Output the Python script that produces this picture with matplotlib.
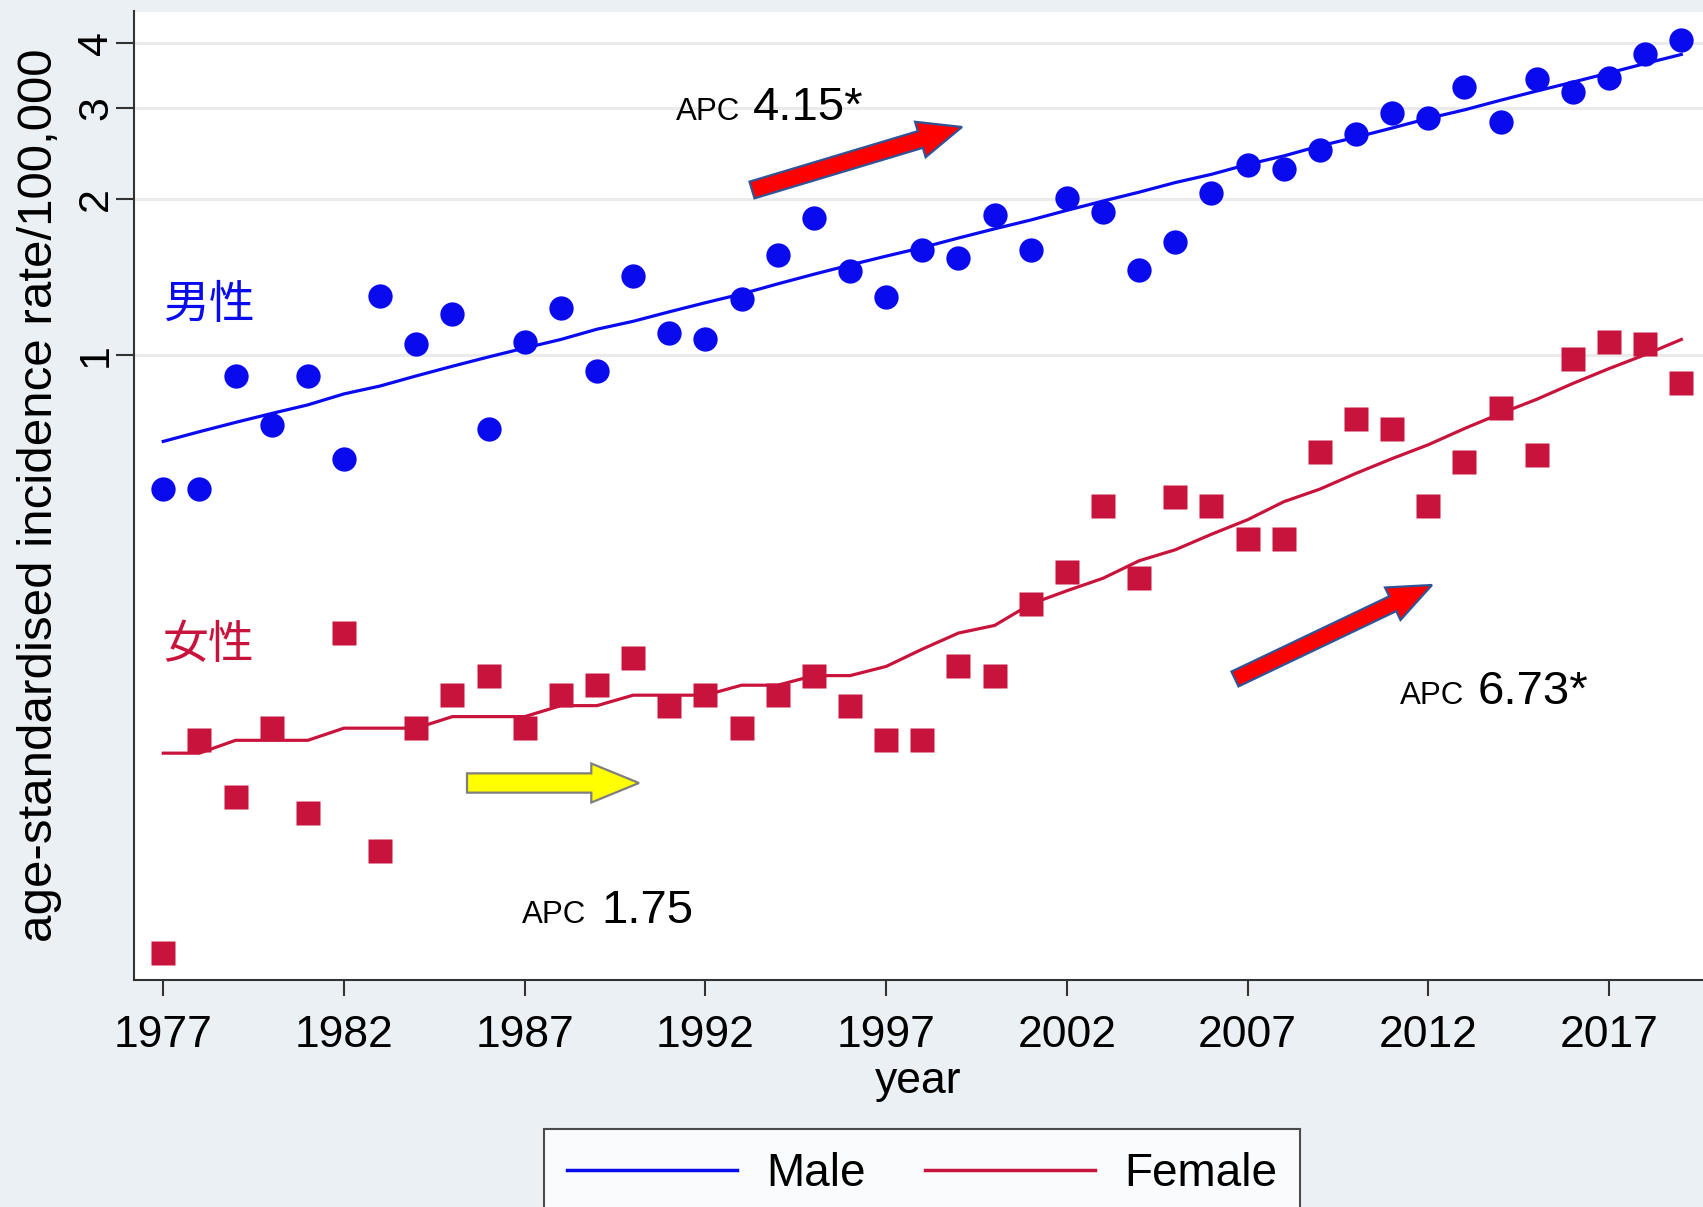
import matplotlib
matplotlib.use("Agg")
import matplotlib.pyplot as plt
from matplotlib.patches import FancyArrow
from matplotlib.ticker import NullLocator

plt.rcParams['font.family'] = ['Liberation Sans', 'DejaVu Sans']

# data (rate per 100,000, log scale)
years = list(range(1977, 2020))
male_rate = [0.55, 0.55, 0.91, 0.73, 0.91, 0.63, 1.30, 1.05, 1.20, 0.72,
             1.06, 1.23, 0.93, 1.42, 1.10, 1.07, 1.28, 1.56, 1.84, 1.45,
             1.29, 1.59, 1.54, 1.86, 1.59, 2.01, 1.89, 1.46, 1.65, 2.05,
             2.32, 2.28, 2.48, 2.67, 2.93, 2.87, 3.29, 2.81, 3.41, 3.22,
             3.43, 3.81, 4.05]
female_rate = [0.07, 0.18, 0.14, 0.19, 0.13, 0.29, 0.11, 0.19, 0.22, 0.24,
               0.19, 0.22, 0.23, 0.26, 0.21, 0.22, 0.19, 0.22, 0.24, 0.21,
               0.18, 0.18, 0.25, 0.24, 0.33, 0.38, 0.51, 0.37, 0.53, 0.51,
               0.44, 0.44, 0.65, 0.75, 0.72, 0.51, 0.62, 0.79, 0.64, 0.98,
               1.06, 1.05, 0.88]
# joinpoint fitted values
male_fit = [0.68, 0.71, 0.74, 0.77, 0.80, 0.84, 0.87, 0.91, 0.95, 0.99,
            1.03, 1.07, 1.12, 1.16, 1.21, 1.26, 1.31, 1.37, 1.43, 1.49,
            1.55, 1.61, 1.68, 1.75, 1.82, 1.90, 1.98, 2.06, 2.15, 2.23,
            2.33, 2.42, 2.53, 2.63, 2.74, 2.86, 2.97, 3.10, 3.23, 3.36,
            3.50, 3.65, 3.80]
female_fit = [0.17, 0.17, 0.18, 0.18, 0.18, 0.19, 0.19, 0.19, 0.20, 0.20,
              0.20, 0.21, 0.21, 0.22, 0.22, 0.22, 0.23, 0.23, 0.24, 0.24,
              0.25, 0.27, 0.29, 0.30, 0.33, 0.35, 0.37, 0.40, 0.42, 0.45,
              0.48, 0.52, 0.55, 0.59, 0.63, 0.67, 0.72, 0.77, 0.82, 0.88,
              0.94, 1.00, 1.07]

x_ticks = [1977, 1982, 1987, 1992, 1997, 2002, 2007, 2012, 2017]
y_ticks = [1, 2, 3, 4]
y_tick_labels = ["1", "2", "3", "4"]
series_labels = ["Male", "Female"]
sex_labels = ["男性", "女性"]
apc_values = ["4.15*", "6.73*", "1.75"]

BG = "#EAF0F3"
BLUE = "#0A0AEE"
CRIMSON = "#C8143C"

W, H = 1703, 1207
fig = plt.figure(figsize=(W / 100, H / 100), dpi=100, facecolor=BG)
ax = fig.add_axes([134 / W, 1 - 980 / H, 1 - 134 / W, 968.5 / H])
ax.set_facecolor("white")

ax.plot(years, male_rate, "o", color=BLUE, ms=17.5, mec="none", zorder=3)
ax.plot(years, female_rate, "s", color=CRIMSON, ms=17, mec="none", zorder=3)
male_line, = ax.plot(years, male_fit, color=BLUE, lw=2.3, zorder=4)
female_line, = ax.plot(years, female_fit, color=CRIMSON, lw=2.3, zorder=4)

ax.set_yscale("log")
ax.set_ylim(0.062, 4.60)
ax.set_xlim(1976.19, 2019.6)
ax.set_yticks(y_ticks)
ax.set_yticklabels(y_tick_labels)
ax.yaxis.set_minor_locator(NullLocator())
ax.set_xticks(x_ticks)

ax.yaxis.grid(True, color="#EBEBEB", lw=2.2)
ax.set_axisbelow(True)
for side in ["top", "right"]:
    ax.spines[side].set_visible(False)
for side in ["left", "bottom"]:
    ax.spines[side].set_color("#333333")
    ax.spines[side].set_linewidth(1.5)

ax.tick_params(axis="x", direction="out", length=11.5, width=1.5,
               color="#333333", labelsize=32, pad=14)
ax.tick_params(axis="y", direction="out", length=13, width=1.5,
               color="#333333", labelsize=31, pad=0, labelrotation=90)
for lab in ax.get_yticklabels():
    lab.set_va("center")

ax.set_xlabel("year", fontsize=32, labelpad=3)
ax.set_ylabel("age-standardised incidence rate/100,000", fontsize=35.5, labelpad=10)

# sex labels
fig.text(163 / W, 1 - 305 / H, sex_labels[0], color=BLUE, fontsize=33,
         family=["Noto Sans CJK JP"], va="center")
fig.text(163 / W, 1 - 645 / H, sex_labels[1], color=CRIMSON, fontsize=33,
         family=["Noto Sans CJK JP"], va="center")

# APC annotations (APC left, number left, baseline), pixels
apc_pos = [(676, 753, 120), (1400, 1478, 704), (522, 601, 923)]
for (xa, xn, yb), val in zip(apc_pos, apc_values):
    fig.text(xa / W, 1 - yb / H, "APC", fontsize=22.5, va="baseline")
    fig.text(xn / W, 1 - yb / H, val, fontsize=34, va="baseline")

# block arrows (tail x, tail y, tip x, tip y) in pixels
arrows = [
    ((752, 190, 962, 127), "#FF0000", "#2F5597", 17.4, 37, 43.5),
    ((1235, 679, 1432, 585), "#FF0000", "#2F5597", 16.4, 36, 43.5),
    ((467, 783, 639, 783), "#FFFF00", "#7F7F7F", 19.3, 39, 47.7),
]
for (x0, y0, x1, y1), fc, ec, w, hw, hl in arrows:
    arr = FancyArrow(x0 / 100, (H - y0) / 100, (x1 - x0) / 100, (y0 - y1) / 100,
                     width=w / 100, head_width=hw / 100, head_length=hl / 100,
                     length_includes_head=True, fc=fc, ec=ec, lw=1.6,
                     transform=fig.dpi_scale_trans)
    fig.add_artist(arr)

leg = fig.legend([male_line, female_line], series_labels, loc="upper left",
                 bbox_to_anchor=(544 / W, 1 - 1129 / H), bbox_transform=fig.transFigure,
                 borderaxespad=0, ncol=2, fontsize=33, frameon=True, fancybox=False,
                 edgecolor="#222222", borderpad=0.5, handlelength=3.71,
                 handletextpad=0.63, columnspacing=1.3)
leg.get_frame().set_linewidth(1.5)
for line in leg.get_lines():
    line.set_linewidth(2.5)

fig.savefig("out.png", dpi=100, facecolor=BG)
